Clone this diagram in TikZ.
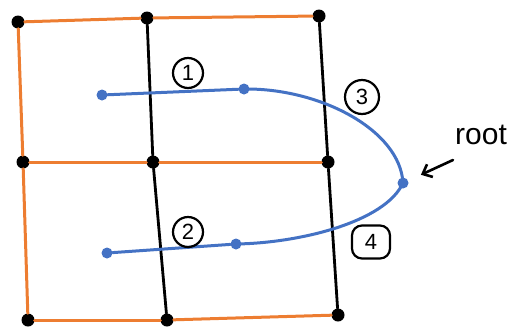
\documentclass[tikz,border=0pt]{standalone}
\usepackage{fontspec}
\setmainfont{Liberation Sans}
\usetikzlibrary{arrows.meta}
\definecolor{edgeorange}{RGB}{237,125,49}
\definecolor{pathblue}{RGB}{68,114,196}
\tikzset{
  vertex/.style={circle,fill=black,minimum size=13pt,inner sep=0pt},
  bvertex/.style={circle,fill=pathblue,minimum size=11pt,inner sep=0pt},
  oedge/.style={draw=edgeorange,line width=3pt,line cap=round},
  kedge/.style={draw=black,line width=2.8pt,line cap=round},
  bpath/.style={draw=pathblue,line width=3pt,line cap=round},
  tag/.style={circle,draw=black,line width=2.2pt,minimum size=30pt,inner sep=0pt,font=\fontsize{22}{22}\selectfont},
  sqtag/.style={rectangle,rounded corners=10pt,draw=black,line width=2.2pt,minimum width=38pt,minimum height=33pt,inner sep=0pt,font=\fontsize{22}{22}\selectfont}
}
\begin{document}
\begin{tikzpicture}[x=1pt,y=-1pt]
\useasboundingbox (0,0) rectangle (516,330);

% grid vertices
\node[vertex] (tl) at (18,22) {};
\node[vertex] (tm) at (147,18) {};
\node[vertex] (tr) at (319,16) {};
\node[vertex] (ml) at (23,162) {};
\node[vertex] (mm) at (153,162) {};
\node[vertex] (mr) at (328,162) {};
\node[vertex] (bl) at (28,320) {};
\node[vertex] (bm) at (167,320) {};
\node[vertex] (br) at (338,315) {};

% orange edges
\path[oedge] (tl) -- (tm);
\path[oedge] (tm) -- (tr);
\path[oedge] (ml) -- (mm);
\path[oedge] (mm) -- (mr);
\path[oedge] (bl) -- (bm);
\path[oedge] (bm) -- (br);
\path[oedge] (tl) -- (ml);
\path[oedge] (ml) -- (bl);

% black edges
\path[kedge] (tm) -- (mm);
\path[kedge] (mm) -- (bm);
\path[kedge] (tr) -- (mr);
\path[kedge] (mr) -- (br);

% blue tree
\node[bvertex] (a1) at (102,95) {};
\node[bvertex] (a2) at (244,89) {};
\node[bvertex] (c1) at (107,253) {};
\node[bvertex] (c2) at (236,244) {};
\node[bvertex] (root) at (403,183) {};
\path[bpath] (a1) -- (a2);
\path[bpath] (a2.center) .. controls (320,88) and (400,130) .. (root.center);
\path[bpath] (c1) -- (c2);
\path[bpath] (c2.center) .. controls (300,243) and (385,222) .. (root.center);

% edge labels
\node[tag] (n1) at (188,73) {1};
\node[tag] (n2) at (188,232) {2};
\node[tag,minimum size=34pt] (n3) at (362,97) {3};
\node[sqtag] (n4) at (371,242) {4};

% root label and pointer
\node[font=\fontsize{30}{30}\selectfont] (rootlabel) at (481,135) {root};
\coordinate (tail) at (453,160);
\draw[line width=2.6pt,line cap=round,-{Straight Barb[length=8pt,width=14pt,line width=2.6pt]},shorten >=14pt] (tail) -- (root);
\end{tikzpicture}
\end{document}
